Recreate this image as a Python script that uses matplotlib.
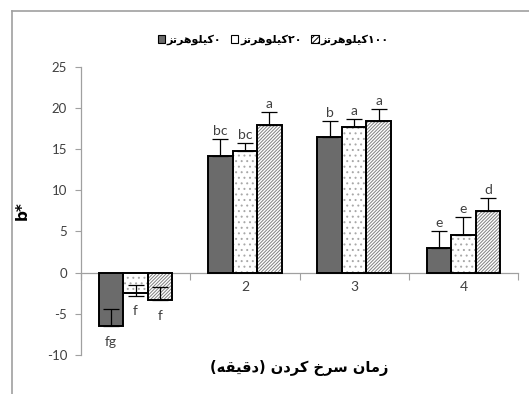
import matplotlib
matplotlib.use('Agg')
import matplotlib.pyplot as plt
import numpy as np
from matplotlib.patches import Patch
from matplotlib.lines import Line2D

# ---------------- data ----------------
categories = ['1', '2', '3', '4']
series_names = ['۰کیلوهرتز', '۲۰کیلوهرتز', '۱۰۰کیلوهرتز']
v0 = [-6.5, 14.2, 16.5, 3.0]
v20 = [-2.5, 14.8, 17.7, 4.6]
v100 = [-3.3, 17.9, 18.4, 7.5]
err_up0 = [2.1, 2.0, 1.9, 2.1]
err_up20 = [1.0, 0.9, 0.9, 2.1]
err_up100 = [1.6, 1.6, 1.5, 1.6]
err_dn0 = [0, 0, 0, 0]
err_dn20 = [0.3, 0, 0, 0]
err_dn100 = [0, 0, 0, 0]
letters0 = ['fg', 'bc', 'b', 'e']
letters20 = ['f', 'bc', 'a', 'e']
letters100 = ['f', 'a', 'a', 'd']
yticks = [-10, -5, 0, 5, 10, 15, 20, 25]
xlabel = 'زمان سرخ کردن (دقیقه)'
ylabel = 'b*'

# ------------- minimal Persian shaping -------------
FORMS = {
    'ک': (0xFB8E, 0xFB8F, 0xFB90, 0xFB91),
    'ی': (0xFBFC, 0xFBFD, 0xFBFE, 0xFBFF),
    'ل': (0xFEDD, 0xFEDE, 0xFEDF, 0xFEE0),
    'ه': (0xFEE9, 0xFEEA, 0xFEEB, 0xFEEC),
    'ت': (0xFE95, 0xFE96, 0xFE97, 0xFE98),
    'م': (0xFEE1, 0xFEE2, 0xFEE3, 0xFEE4),
    'ن': (0xFEE5, 0xFEE6, 0xFEE7, 0xFEE8),
    'س': (0xFEB1, 0xFEB2, 0xFEB3, 0xFEB4),
    'خ': (0xFEA5, 0xFEA6, 0xFEA7, 0xFEA8),
    'ق': (0xFED5, 0xFED6, 0xFED7, 0xFED8),
    'و': (0xFEED, 0xFEEE),
    'ر': (0xFEAD, 0xFEAE),
    'ز': (0xFEAF, 0xFEB0),
    'ا': (0xFE8D, 0xFE8E),
    'د': (0xFEA9, 0xFEAA),
}


def shape(s):
    out = []
    for i, c in enumerate(s):
        if c not in FORMS:
            out.append(c)
            continue
        f = FORMS[c]
        prev = s[i - 1] if i > 0 else ''
        nxt = s[i + 1] if i + 1 < len(s) else ''
        pj = prev in FORMS and len(FORMS[prev]) == 4
        nj = len(f) == 4 and nxt in FORMS
        if pj and nj:
            out.append(chr(f[3]))
        elif pj:
            out.append(chr(f[1]))
        elif nj:
            out.append(chr(f[2]))
        else:
            out.append(chr(f[0]))
    tokens = []
    for c in out:
        if '\u06f0' <= c <= '\u06f9' and tokens and '\u06f0' <= tokens[-1][-1] <= '\u06f9':
            tokens[-1] += c
        else:
            tokens.append(c)
    mirror = {'(': ')', ')': '('}
    return ''.join(mirror.get(t, t) for t in reversed(tokens))


# ---------------- figure ----------------
W, H = 529, 394
fig = plt.figure(figsize=(W / 100, H / 100), dpi=100)
ax = fig.add_axes([81 / W, 1 - 355 / H, (518 - 81) / W, (355 - 66.7) / H])

fa = ['DejaVu Sans']
tick_font = ['Lato', 'DejaVu Sans']
tcol = '#404040'
gray = '#a0a0a0'

x = np.arange(len(categories))
bw = 0.224
offs = [-bw, 0, bw]
vals = [v0, v20, v100]
ups = [err_up0, err_up20, err_up100]
dns = [err_dn0, err_dn20, err_dn100]
lets = [letters0, letters20, letters100]
faces = ['#6b6b6b', 'white', 'white']
hatches = [None, '...', '//////////']
hcols = ['#6b6b6b', '#a8a8a8', '#808080']

plt.rcParams['hatch.linewidth'] = 0.7
for k in range(3):
    xs = x + offs[k]
    ax.bar(xs, vals[k], bw, color=faces[k], hatch=hatches[k],
           edgecolor=hcols[k], linewidth=0, zorder=2)
    ax.bar(xs, vals[k], bw, color='none', edgecolor='black',
           linewidth=1.4, zorder=2.2)
    ax.errorbar(xs, vals[k], yerr=[dns[k], ups[k]], fmt='none',
                ecolor='black', elinewidth=0.9, capsize=5.5, capthick=0.9,
                zorder=3)
    for i in range(len(categories)):
        v = vals[k][i]
        if v >= 0:
            ax.annotate(lets[k][i], (xs[i], v + ups[k][i]), xytext=(0, 1.5),
                        textcoords='offset points', ha='center', va='bottom',
                        fontsize=10, color=tcol, family=tick_font)
        else:
            ax.annotate(lets[k][i], (xs[i], v - dns[k][i]), xytext=(0, -7),
                        textcoords='offset points', ha='center', va='top',
                        fontsize=10, color=tcol, family=tick_font)

ax.set_xlim(-0.5, len(categories) - 0.5)
ax.set_ylim(-10, 25)
ax.set_yticks(yticks)
ax.set_yticklabels([str(t) for t in yticks], fontsize=9.5, color=tcol,
                   family=tick_font)
ax.set_xticks(np.arange(-0.5, len(categories), 1.0))
ax.set_xticklabels([])
ax.tick_params(axis='y', direction='out', length=4, color=gray, width=0.8, pad=6)
ax.tick_params(axis='x', direction='out', length=5, color=gray, width=0.8)

for i, c in enumerate(categories):
    ax.annotate(c, (x[i], 0), xytext=(0, -6), textcoords='offset points',
                ha='center', va='top', fontsize=10, color=tcol,
                family=tick_font, zorder=1)

for s in ['top', 'right']:
    ax.spines[s].set_visible(False)
ax.spines['bottom'].set_position(('data', 0))
ax.spines['bottom'].set_color(gray)
ax.spines['left'].set_color(gray)
ax.spines['bottom'].set_linewidth(0.9)
ax.spines['left'].set_linewidth(0.9)
ax.spines['bottom'].set_zorder(1.5)

ax.set_ylabel(ylabel, fontsize=11, fontweight='bold', family=fa, labelpad=12)
fig.text(299.5 / W, 1 - 368 / H, shape(xlabel), ha='center', va='center',
         fontsize=10.5, fontweight='bold', family=fa)

handles = [Patch(facecolor=faces[k], edgecolor='black',
                 hatch=(None if k == 0 else ('//////' if k == 2 else None)),
                 linewidth=0.8) for k in range(3)]
leg = fig.legend(handles, [shape(n) for n in series_names], ncol=3,
                 loc='center', bbox_to_anchor=(273 / W, 1 - 40 / H),
                 frameon=False, handlelength=0.65, handleheight=0.65,
                 handletextpad=0.15, columnspacing=0.9,
                 prop={'family': fa, 'weight': 'bold', 'size': 8})

# outer chart frame (partially visible)
fig.add_artist(Line2D([12 / W, 1.0], [1 - 11 / H, 1 - 11 / H],
                      transform=fig.transFigure, color=gray, lw=1.2))
fig.add_artist(Line2D([12 / W, 12 / W], [0, 1 - 11 / H],
                      transform=fig.transFigure, color=gray, lw=1.2))

fig.savefig('out.png', dpi=100)
